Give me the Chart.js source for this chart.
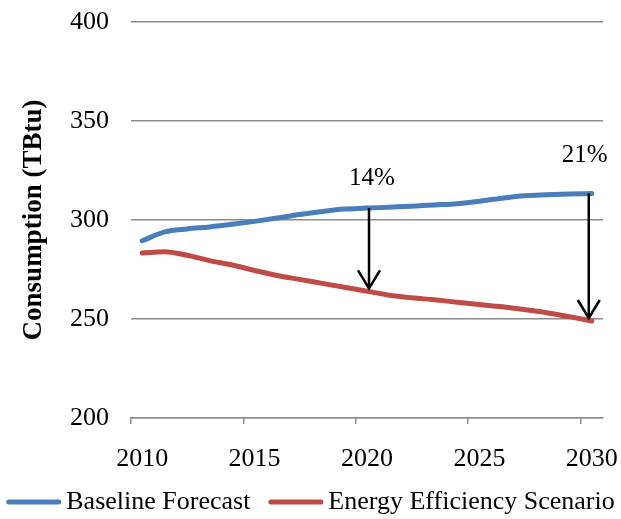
<!DOCTYPE html>
<html>
<head>
<meta charset="utf-8">
<script src="https://cdn.jsdelivr.net/npm/chart.js@4.4.0/dist/chart.umd.min.js"></script>
<style>
  html, body { margin: 0; padding: 0; background: #fff; }
  #wrap { width: 621px; height: 519px; position: relative; }
</style>
</head>
<body>
<div id="wrap"><canvas id="chart"></canvas></div>
<script>
// 年次カテゴリ
const years = [2010, 2011, 2012, 2013, 2014, 2015, 2016, 2017, 2018, 2019, 2020,
               2021, 2022, 2023, 2024, 2025, 2026, 2027, 2028, 2029, 2030];

// 系列データ (TBtu)
const baseline = [289.5, 294.0, 295.5, 296.5, 297.8, 299.3, 301.0, 302.8, 304.3, 305.5, 306.0,
                  306.5, 307.0, 307.6, 308.2, 309.5, 311.0, 312.2, 312.7, 313.1, 313.4];
const efficiency = [283.3, 284.0, 282.2, 279.5, 277.3, 274.5, 272.0, 270.0, 268.0, 266.0, 264.0,
                    262.0, 260.7, 259.7, 258.5, 257.3, 256.2, 254.8, 253.2, 251.2, 249.0];

const seriesNames = ['Baseline Forecast', 'Energy Efficiency Scenario'];

// 削減率の矢印
const arrowYears = [2020, 2030];
const arrowLabels = ['14%', '21%'];

const yTicks = [200, 250, 300, 350, 400];

const FONT = "'Liberation Serif', 'Times New Roman', serif";
const GRID = '#8c8c8c';

// 矢印とラベルを描画
const gapArrows = {
    id: 'gapArrows',
    afterDatasetsDraw(chart) {
        const { ctx, scales: { x, y } } = chart;
        const labelShift = [[3, 30], [-4, 38]];
        ctx.save();
        ctx.strokeStyle = '#000';
        ctx.lineWidth = 2.5;
        arrowYears.forEach((yr, k) => {
            const i = years.indexOf(yr);
            const px = x.getPixelForValue(i) + (k === 0 ? 2 : -3);
            const y0 = y.getPixelForValue(baseline[i]);
            const y1 = y.getPixelForValue(efficiency[i]) - 3;
            ctx.beginPath();
            ctx.moveTo(px, y0);
            ctx.lineTo(px, y1);
            ctx.stroke();
            ctx.beginPath();
            ctx.moveTo(px - 11, y1 - 18);
            ctx.lineTo(px, y1);
            ctx.lineTo(px + 11, y1 - 18);
            ctx.stroke();

            ctx.fillStyle = '#000';
            ctx.font = `25px ${FONT}`;
            ctx.textAlign = 'center';
            ctx.textBaseline = 'middle';
            ctx.fillText(arrowLabels[k], px + labelShift[k][0], y0 - labelShift[k][1]);
        });
        ctx.restore();
    }
};

// 凡例 (1行に収める)
const lineLegend = {
    id: 'lineLegend',
    afterDraw(chart) {
        const { ctx } = chart;
        const sw = 55, gap = 5, spacing = 18, cy = 502;
        ctx.save();
        ctx.font = `26px ${FONT}`;
        const items = chart.data.datasets.map(ds => ({
            text: ds.label, color: ds.borderColor, w: ctx.measureText(ds.label).width
        }));
        const total = items.reduce((s, it) => s + sw + gap + it.w, 0) + spacing * (items.length - 1);
        let xPos = (chart.width - total) / 2;
        items.forEach(it => {
            ctx.strokeStyle = it.color;
            ctx.lineWidth = 5;
            ctx.lineCap = 'round';
            ctx.beginPath();
            ctx.moveTo(xPos + 2.5, cy);
            ctx.lineTo(xPos + sw - 2.5, cy);
            ctx.stroke();
            ctx.fillStyle = '#000';
            ctx.textAlign = 'left';
            ctx.textBaseline = 'middle';
            ctx.fillText(it.text, xPos + sw + gap, cy);
            xPos += sw + gap + it.w + spacing;
        });
        ctx.restore();
    }
};

new Chart(document.getElementById('chart'), {
    type: 'line',
    data: {
        labels: years.map(String),
        datasets: [
            {
                label: seriesNames[0],
                data: baseline,
                borderColor: '#4a7ebb',
                backgroundColor: '#4a7ebb',
                borderWidth: 5,
                borderCapStyle: 'round',
                pointRadius: 0,
                cubicInterpolationMode: 'monotone'
            },
            {
                label: seriesNames[1],
                data: efficiency,
                borderColor: '#be4b48',
                backgroundColor: '#be4b48',
                borderWidth: 5,
                borderCapStyle: 'round',
                pointRadius: 0,
                cubicInterpolationMode: 'monotone'
            }
        ]
    },
    options: {
        responsive: true,
        maintainAspectRatio: false,
        animation: false,
        layout: { padding: { top: 22, right: 18, left: 0, bottom: 39 } },
        plugins: {
            tooltip: { enabled: false },
            legend: { display: false }
        },
        scales: {
            x: {
                type: 'category',
                offset: true,
                grid: {
                    offset: true,
                    drawOnChartArea: false,
                    drawTicks: true,
                    tickLength: 6,
                    lineWidth: 1.5,
                    color: c => (c.index !== undefined && c.index % 5 === 0) ? GRID : 'rgba(0,0,0,0)'
                },
                border: { display: true, color: GRID, width: 1.5 },
                ticks: {
                    autoSkip: false,
                    maxRotation: 0,
                    color: '#000',
                    font: { family: FONT, size: 26 },
                    padding: 20,
                    callback: (v, i) => (i % 5 === 0 ? years[i] : '')
                },
                afterFit: s => { s.height = 62; s.paddingLeft = 0; s.paddingRight = 0; }
            },
            y: {
                min: 200,
                max: 400,
                afterBuildTicks: s => { s.ticks = yTicks.map(v => ({ value: v })); },
                grid: { color: GRID, lineWidth: 1.5, drawTicks: false },
                border: { display: false },
                ticks: {
                    color: '#000',
                    font: { family: FONT, size: 26 },
                    padding: 22
                },
                title: {
                    display: true,
                    text: 'Consumption (TBtu)',
                    color: '#000',
                    font: { family: FONT, size: 27, weight: 'bold' },
                    padding: { top: 18, bottom: 0 }
                },
                afterFit: s => { s.width = 131; s.paddingTop = 0; s.paddingBottom = 0; }
            }
        }
    },
    plugins: [gapArrows, lineLegend]
});
</script>
</body>
</html>
